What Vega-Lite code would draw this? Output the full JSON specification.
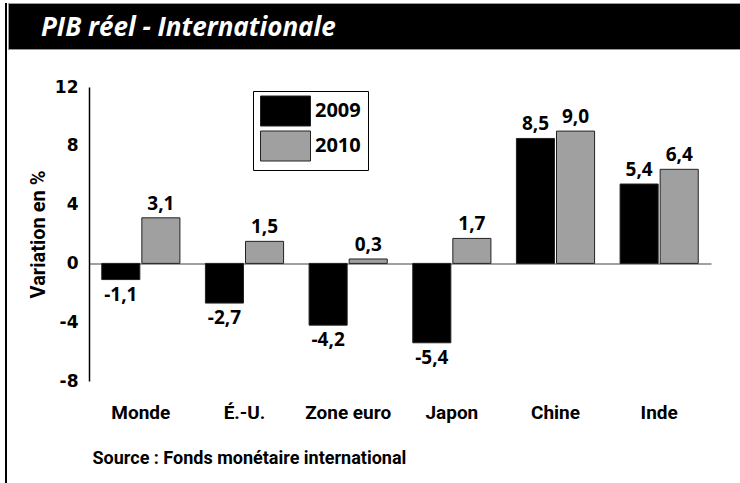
{
  "$schema": "https://vega.github.io/schema/vega-lite/v6.json",
  "padding": {"left": 5, "top": 2, "right": 0, "bottom": 0},
  "background": "white",
  "config": {
    "locale": {"number": {"decimal": ",", "thousands": " ", "grouping": [3], "currency": ["", " €"], "minus": "-"}},
    "view": {"stroke": null}
  },
  "spacing": 0,
  "resolve": {"scale": {"color": "independent"}, "legend": {"color": "independent"}},
  "hconcat": [
    {
      "width": 2,
      "height": 481,
      "view": {"fill": "black", "stroke": null},
      "data": {"values": [{}]},
      "mark": {"type": "point", "opacity": 0, "size": 0, "strokeWidth": 0}
    },
    {
      "spacing": 28,
      "resolve": {"scale": {"color": "independent"}, "legend": {"color": "independent"}},
      "vconcat": [
        {
          "width": 733,
          "height": 46,
          "view": {"fill": "black", "stroke": "#9a9a9a"},
          "data": {"values": [{"titre": "PIB réel  - Internationale"}]},
          "mark": {"type": "text", "align": "left", "baseline": "alphabetic", "color": "white", "font": "Open Sans", "fontWeight": "bold", "fontStyle": "italic", "fontSize": 26},
          "encoding": {
            "x": {"value": 33},
            "y": {"value": 33},
            "text": {"field": "titre"}
          }
        },
        {
          "width": 733,
          "height": 294,
          "data": {
            "values": [
              {"pays": "Monde", "annee": "2009", "valeur": -1.1},
              {"pays": "Monde", "annee": "2010", "valeur": 3.1},
              {"pays": "É.-U.", "annee": "2009", "valeur": -2.7},
              {"pays": "É.-U.", "annee": "2010", "valeur": 1.5},
              {"pays": "Zone euro", "annee": "2009", "valeur": -4.2},
              {"pays": "Zone euro", "annee": "2010", "valeur": 0.3},
              {"pays": "Japon", "annee": "2009", "valeur": -5.4},
              {"pays": "Japon", "annee": "2010", "valeur": 1.7},
              {"pays": "Chine", "annee": "2009", "valeur": 8.5},
              {"pays": "Chine", "annee": "2010", "valeur": 9.0},
              {"pays": "Inde", "annee": "2009", "valeur": 5.4},
              {"pays": "Inde", "annee": "2010", "valeur": 6.4}
            ]
          },
          "resolve": {"axis": {"x": "independent"}},
          "layer": [
            {
              "mark": {"type": "bar", "stroke": "#222222", "strokeWidth": 1},
              "encoding": {
                "x": {
                  "field": "pays",
                  "type": "nominal",
                  "sort": ["Monde", "É.-U.", "Zone euro", "Japon", "Chine", "Inde"],
                  "scale": {"range": [81, 703], "paddingInner": 0.246, "paddingOuter": 0.123},
                  "axis": {
                    "orient": "bottom",
                    "domain": false,
                    "ticks": false,
                    "labelAngle": 0,
                    "labelPadding": 22,
                    "labelFont": "Roboto",
                    "labelFontWeight": "bold",
                    "labelFontSize": 19,
                    "labelColor": "black",
                    "title": "Source : Fonds monétaire international",
                    "titleFont": "Roboto",
                    "titleFontWeight": "bold",
                    "titleFontSize": 18,
                    "titleColor": "black",
                    "titleAnchor": "start",
                    "titleAlign": "left",
                    "titleBaseline": "alphabetic",
                    "titleX": 84,
                    "titleY": 82
                  }
                },
                "xOffset": {
                  "field": "annee",
                  "type": "nominal",
                  "scale": {"paddingInner": 0.05}
                },
                "y": {
                  "field": "valeur",
                  "type": "quantitative",
                  "scale": {"domain": [-8, 12], "nice": false},
                  "axis": {
                    "orient": "left",
                    "offset": -81,
                    "values": [-8, -4, 0, 4, 8, 12],
                    "grid": false,
                    "ticks": false,
                    "domainColor": "black",
                    "domainWidth": 1.5,
                    "labelFont": "DejaVu Sans",
                    "labelFontWeight": "bold",
                    "labelFontSize": 17,
                    "labelColor": "black",
                    "labelPadding": 11,
                    "title": "Variation en %",
                    "titleFont": "Roboto",
                    "titleFontWeight": "bold",
                    "titleFontSize": 20,
                    "titleColor": "black",
                    "titlePadding": 6
                  }
                },
                "color": {
                  "field": "annee",
                  "type": "nominal",
                  "scale": {"domain": ["2009", "2010"], "range": ["#000000", "#a0a0a0"]},
                  "legend": {
                    "orient": "none",
                    "legendX": 245,
                    "legendY": 4,
                    "title": null,
                    "strokeColor": "black",
                    "fillColor": "white",
                    "padding": 7,
                    "symbolType": "M-1,-1.2H3V1.2H-1Z",
                    "symbolSize": 625,
                    "symbolStrokeColor": "#222222",
                    "symbolStrokeWidth": 1,
                    "symbolOpacity": 1,
                    "labelFont": "Open Sans",
                    "labelFontWeight": "bold",
                    "labelFontSize": 20,
                    "labelColor": "black",
                    "labelOffset": 29,
                    "rowPadding": 1
                  }
                }
              }
            },
            {
              "transform": [{"filter": "datum.valeur >= 0"}],
              "mark": {"type": "text", "baseline": "alphabetic", "dy": -8, "font": "Open Sans", "fontWeight": "bold", "fontSize": 19, "color": "black"},
              "encoding": {
                "x": {
                  "field": "pays",
                  "type": "nominal",
                  "sort": ["Monde", "É.-U.", "Zone euro", "Japon", "Chine", "Inde"],
                  "axis": {"orient": "top", "offset": -176.4, "domainColor": "#808080", "domainWidth": 1.5, "labels": false, "ticks": false, "title": null, "zindex": 0}
                },
                "xOffset": {"field": "annee", "type": "nominal"},
                "y": {"field": "valeur", "type": "quantitative"},
                "text": {"field": "valeur", "type": "quantitative", "format": ".1f"}
              }
            },
            {
              "transform": [{"filter": "datum.valeur < 0"}],
              "mark": {"type": "text", "baseline": "alphabetic", "dy": 21, "font": "Open Sans", "fontWeight": "bold", "fontSize": 19, "color": "black"},
              "encoding": {
                "x": {"field": "pays", "type": "nominal", "sort": ["Monde", "É.-U.", "Zone euro", "Japon", "Chine", "Inde"], "axis": null},
                "xOffset": {"field": "annee", "type": "nominal"},
                "y": {"field": "valeur", "type": "quantitative"},
                "text": {"field": "valeur", "type": "quantitative", "format": ".1f"}
              }
            }
          ]
        }
      ]
    }
  ]
}
